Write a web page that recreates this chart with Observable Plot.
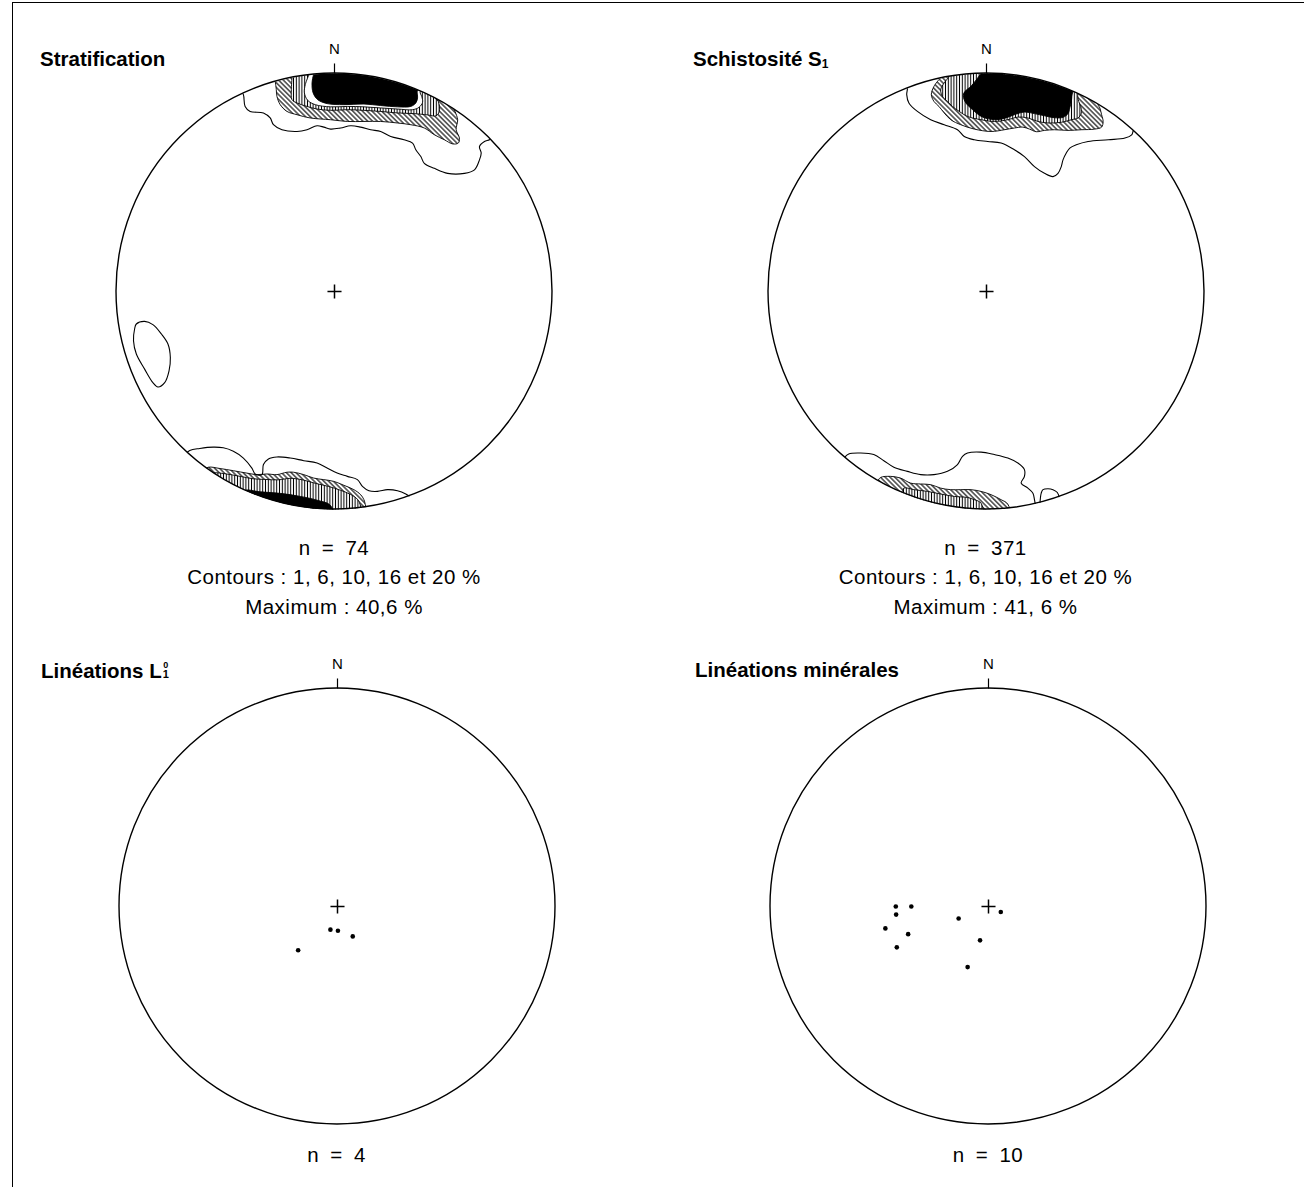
<!DOCTYPE html>
<html><head><meta charset="utf-8">
<script src="https://cdn.jsdelivr.net/npm/d3@7"></script>
<script src="https://cdn.jsdelivr.net/npm/@observablehq/plot@0.6"></script>
<style>
html,body{margin:0;padding:0;background:#fff;}
#page{position:relative;width:1304px;height:1187px;overflow:hidden;font-family:"Liberation Sans",Arial,Helvetica,sans-serif;color:#000;background:#fff;}
.frame{position:absolute;left:12px;top:2px;width:1292px;height:1185px;border-top:1.5px solid #000;border-left:1.5px solid #000;box-sizing:border-box;}
.panel{position:absolute;}
.panel svg{background:transparent;overflow:visible;}
.title{position:absolute;font-weight:bold;font-size:20.5px;white-space:nowrap;line-height:20.5px;}
.title sub{font-size:12px;vertical-align:-2px;line-height:0;}
.stk{position:relative;display:inline-block;font-size:11px;margin-left:1px;}
.stk .sup{position:absolute;left:0.5px;top:-9px;font-size:9px;}
.caption{position:absolute;width:460px;text-align:center;font-size:20.5px;letter-spacing:0.5px;line-height:29.5px;white-space:nowrap;}
.caption .n{word-spacing:5px;}
</style></head><body>
<svg width="0" height="0" style="position:absolute">
<defs>
<pattern id="hatch-diag" patternUnits="userSpaceOnUse" width="3.4" height="3.4" patternTransform="rotate(-45)">
<rect width="3.4" height="3.4" fill="#fff"/><line x1="1.7" y1="-1" x2="1.7" y2="4.4" stroke="#000" stroke-width="1.1"/>
</pattern>
<pattern id="hatch-vert" patternUnits="userSpaceOnUse" width="2.8" height="2.8">
<rect width="2.8" height="2.8" fill="#fff"/><line x1="1.4" y1="-1" x2="1.4" y2="3.8" stroke="#000" stroke-width="1"/>
</pattern>
</defs>
</svg>
<div id="page"><div class="frame"></div></div>
<script>
// ---------------- data ----------------
const contourLevels = [1, 6, 10, 16, 20];

const titles = [
  "Stratification",
  "Schistosité S<sub>1</sub>",
  "Linéations L<span class='stk'><span class='sup'>0</span>1</span>",
  "Linéations minérales"
];

const captions = [
  ["n = 74", "Contours : 1, 6, 10, 16 et 20 %", "Maximum : 40,6 %"],
  ["n = 371", "Contours : 1, 6, 10, 16 et 20 %", "Maximum : 41, 6 %"],
  ["n = 4"],
  ["n = 10"]
];

const compass = [{label: "N", trend: 0}];
const netCentre = [{trend: 0, plunge: 90}];

// contour outlines, in equal-area net coordinates (east, north; unit radius)
const stratificationContours = [
  {level: 1, pts: [[-0.43,0.92],[-0.418,0.903],[-0.410,0.849],[-0.387,0.826],[-0.326,0.819],[-0.295,0.796],[-0.280,0.765],[-0.241,0.742],[-0.172,0.734],[-0.126,0.742],[-0.080,0.760],[-0.049,0.754],[-0.018,0.745],[0.028,0.750],[0.074,0.760],[0.120,0.754],[0.166,0.742],[0.212,0.734],[0.258,0.711],[0.319,0.696],[0.358,0.681],[0.373,0.650],[0.396,0.619],[0.412,0.588],[0.458,0.565],[0.519,0.542],[0.596,0.542],[0.642,0.558],[0.665,0.604],[0.673,0.635],[0.665,0.665],[0.688,0.688],[0.711,0.696],[0.725,0.71]]},
  {level: 1, pts: [[-0.69,-0.75],[-0.664,-0.729],[-0.618,-0.720],[-0.556,-0.714],[-0.510,-0.717],[-0.464,-0.733],[-0.418,-0.764],[-0.379,-0.810],[-0.364,-0.837],[-0.333,-0.840],[-0.326,-0.794],[-0.303,-0.768],[-0.264,-0.759],[-0.203,-0.764],[-0.141,-0.776],[-0.080,-0.787],[-0.034,-0.810],[0.012,-0.833],[0.059,-0.848],[0.105,-0.863],[0.128,-0.894],[0.158,-0.914],[0.197,-0.917],[0.243,-0.909],[0.289,-0.914],[0.327,-0.929],[0.350,-0.945],[0.36,-0.96]]},
  {level: 1, closed: true, pts: [[-0.909,-0.149],[-0.871,-0.137],[-0.833,-0.152],[-0.794,-0.195],[-0.764,-0.241],[-0.753,-0.303],[-0.759,-0.364],[-0.779,-0.418],[-0.810,-0.438],[-0.833,-0.418],[-0.871,-0.356],[-0.909,-0.287],[-0.922,-0.226],[-0.917,-0.172]]},
  {level: 6, pts: [[-0.272,0.965],[-0.267,0.926],[-0.264,0.895],[-0.249,0.857],[-0.218,0.826],[-0.172,0.811],[-0.111,0.796],[-0.018,0.788],[0.059,0.780],[0.135,0.780],[0.212,0.780],[0.289,0.773],[0.350,0.765],[0.412,0.750],[0.458,0.719],[0.504,0.696],[0.542,0.677],[0.568,0.681],[0.573,0.704],[0.558,0.742],[0.565,0.788],[0.553,0.826],[0.545,0.849],[0.62,0.85],[0.3,1.06],[-0.3,1.06]]},
  {level: 10, pts: [[-0.195,0.978],[-0.198,0.926],[-0.195,0.880],[-0.172,0.865],[-0.126,0.849],[-0.080,0.837],[-0.018,0.831],[0.059,0.834],[0.135,0.831],[0.212,0.826],[0.289,0.819],[0.365,0.816],[0.427,0.810],[0.465,0.806],[0.481,0.826],[0.476,0.872],[0.458,0.893],[0.52,0.93],[0.2,1.06],[-0.22,1.06]]},
  {level: 16, pts: [[-0.118,0.993],[-0.134,0.949],[-0.138,0.911],[-0.123,0.877],[-0.088,0.857],[-0.018,0.847],[0.059,0.849],[0.135,0.847],[0.212,0.842],[0.289,0.837],[0.358,0.834],[0.388,0.845],[0.404,0.868],[0.400,0.895],[0.393,0.916],[0.44,0.95],[0.15,1.06],[-0.14,1.06]]},
  {level: 20, pts: [[-0.095,1.0],[-0.103,0.957],[-0.098,0.911],[-0.077,0.880],[-0.034,0.862],[0.043,0.857],[0.135,0.860],[0.212,0.853],[0.289,0.847],[0.350,0.849],[0.373,0.865],[0.381,0.888],[0.381,0.924],[0.43,0.96],[0.1,1.06],[-0.1,1.06]]},
  {level: 6, pts: [[-0.60,-0.82],[-0.579,-0.806],[-0.525,-0.812],[-0.464,-0.822],[-0.402,-0.833],[-0.356,-0.840],[-0.310,-0.837],[-0.264,-0.840],[-0.218,-0.829],[-0.188,-0.829],[-0.141,-0.840],[-0.095,-0.856],[-0.049,-0.863],[-0.003,-0.871],[0.043,-0.889],[0.089,-0.909],[0.120,-0.932],[0.135,-0.955],[0.143,-0.986],[0.16,-1.08],[-0.3,-1.06],[-0.62,-0.86]]},
  {level: 10, pts: [[-0.575,-0.84],[-0.558,-0.832],[-0.502,-0.836],[-0.433,-0.848],[-0.373,-0.859],[-0.318,-0.862],[-0.258,-0.864],[-0.203,-0.857],[-0.147,-0.864],[-0.088,-0.880],[-0.028,-0.894],[0.028,-0.912],[0.074,-0.931],[0.106,-0.954],[0.120,-0.986],[0.13,-1.08],[-0.3,-1.06],[-0.6,-0.88]]},
  {level: 20, pts: [[-0.42,-0.93],[-0.410,-0.912],[-0.341,-0.919],[-0.249,-0.926],[-0.157,-0.940],[-0.074,-0.959],[-0.018,-0.982],[0.0,-1.08],[-0.43,-1.0]]}
];

const schistositeContours = [
  {level: 1, pts: [[-0.37,0.945],[-0.363,0.934],[-0.366,0.903],[-0.356,0.865],[-0.317,0.826],[-0.256,0.788],[-0.194,0.765],[-0.133,0.742],[-0.102,0.711],[-0.056,0.696],[0.006,0.688],[0.067,0.681],[0.128,0.650],[0.174,0.619],[0.220,0.573],[0.266,0.542],[0.305,0.527],[0.328,0.542],[0.343,0.573],[0.351,0.604],[0.366,0.635],[0.382,0.658],[0.412,0.673],[0.466,0.688],[0.559,0.696],[0.635,0.704],[0.666,0.719],[0.674,0.739],[0.685,0.75]]},
  {level: 1, pts: [[-0.65,-0.76],[-0.632,-0.745],[-0.578,-0.741],[-0.517,-0.748],[-0.471,-0.776],[-0.425,-0.806],[-0.363,-0.825],[-0.302,-0.840],[-0.241,-0.840],[-0.179,-0.825],[-0.133,-0.794],[-0.110,-0.756],[-0.087,-0.741],[-0.025,-0.737],[0.036,-0.748],[0.098,-0.764],[0.144,-0.787],[0.174,-0.817],[0.174,-0.848],[0.159,-0.879],[0.190,-0.902],[0.213,-0.925],[0.220,-0.955],[0.224,-0.978],[0.226,-1.0]]},
  {level: 1, pts: [[0.245,-0.975],[0.251,-0.925],[0.259,-0.909],[0.282,-0.905],[0.305,-0.909],[0.325,-0.922],[0.335,-0.95]]},
  {level: 6, pts: [[-0.218,0.972],[-0.241,0.941],[-0.253,0.903],[-0.241,0.872],[-0.218,0.849],[-0.194,0.819],[-0.164,0.788],[-0.118,0.765],[-0.056,0.745],[0.021,0.734],[0.082,0.742],[0.128,0.750],[0.167,0.754],[0.197,0.745],[0.228,0.733],[0.266,0.739],[0.312,0.742],[0.374,0.739],[0.435,0.742],[0.497,0.745],[0.528,0.754],[0.535,0.780],[0.528,0.811],[0.520,0.842],[0.512,0.859],[0.56,0.9],[0.2,1.08],[-0.22,1.05]]},
  {level: 10, pts: [[-0.171,0.985],[-0.194,0.957],[-0.210,0.926],[-0.202,0.895],[-0.179,0.872],[-0.156,0.849],[-0.125,0.826],[-0.087,0.803],[-0.025,0.788],[0.036,0.780],[0.098,0.788],[0.144,0.800],[0.190,0.796],[0.236,0.780],[0.282,0.773],[0.343,0.776],[0.389,0.788],[0.420,0.796],[0.435,0.819],[0.432,0.849],[0.423,0.872],[0.420,0.908],[0.46,0.95],[0.15,1.08],[-0.17,1.05]]},
  {level: 20, pts: [[-0.025,1.0],[-0.068,0.945],[-0.105,0.908],[-0.099,0.872],[-0.064,0.834],[-0.018,0.800],[0.036,0.788],[0.082,0.794],[0.128,0.811],[0.174,0.823],[0.220,0.816],[0.266,0.806],[0.312,0.797],[0.351,0.799],[0.374,0.816],[0.382,0.842],[0.389,0.872],[0.397,0.917],[0.44,0.96],[0.1,1.08],[-0.03,1.06]]},
  {level: 6, pts: [[-0.50,-0.87],[-0.486,-0.853],[-0.440,-0.848],[-0.394,-0.856],[-0.348,-0.879],[-0.302,-0.883],[-0.256,-0.886],[-0.210,-0.902],[-0.164,-0.909],[-0.118,-0.909],[-0.071,-0.909],[-0.025,-0.917],[0.021,-0.932],[0.067,-0.955],[0.098,-0.976],[0.11,-1.08],[-0.3,-1.06],[-0.52,-0.92]]},
  {level: 10, pts: [[-0.39,-0.93],[-0.379,-0.902],[-0.333,-0.909],[-0.271,-0.917],[-0.210,-0.929],[-0.148,-0.940],[-0.087,-0.945],[-0.056,-0.955],[-0.025,-0.971],[-0.02,-1.08],[-0.4,-1.0]]}
];

// lineations: trend (deg from N, clockwise) and plunge (deg), lower hemisphere
const lineationsL1 = [
  {trend: 197, plunge: 81},
  {trend: 179, plunge: 81},
  {trend: 153, plunge: 77.5},
  {trend: 222, plunge: 68}
];
const lineationsMinerales = [
  {trend: 270, plunge: 55},
  {trend: 270, plunge: 61},
  {trend: 265, plunge: 55},
  {trend: 258, plunge: 50},
  {trend: 251, plunge: 58},
  {trend: 246, plunge: 52},
  {trend: 248, plunge: 78},
  {trend: 114, plunge: 85},
  {trend: 194, plunge: 77},
  {trend: 199, plunge: 66}
];

// ---------------- drawing ----------------
const rad = Math.PI / 180;
const rho = d => Math.SQRT2 * Math.sin((90 - d.plunge) * rad / 2);
const schmidtX = d => rho(d) * Math.sin(d.trend * rad);
const schmidtY = d => rho(d) * Math.cos(d.trend * rad);
const levelFill = {6: "url(#hatch-diag)", 10: "url(#hatch-vert)", 16: "white", 20: "black"};

function rowsOf(contours) {
  return contours.flatMap((c, i) => c.pts.map(([x, y]) => ({id: i, level: c.level, closed: !!c.closed, x, y})));
}

function stereonet(key, contours, points) {
  const rows = rowsOf(contours);
  const clip = (index, scales, values, dimensions, context, next) => {
    const g = next(index, scales, values, dimensions, context);
    g.setAttribute("clip-path", `url(#clip-${key})`);
    return g;
  };
  const marks = [];
  for (const L of contourLevels.slice(1)) {
    const r = rows.filter(d => d.level === L);
    if (r.length) marks.push(Plot.line(r, {x: "x", y: "y", z: "id", fill: levelFill[L], stroke: "black", strokeWidth: 0.9, curve: "catmull-rom", render: clip}));
  }
  const open1 = rows.filter(d => d.level === contourLevels[0] && !d.closed);
  const closed1 = rows.filter(d => d.level === contourLevels[0] && d.closed);
  if (open1.length) marks.push(Plot.line(open1, {x: "x", y: "y", z: "id", stroke: "black", strokeWidth: 1.1, curve: "catmull-rom", render: clip}));
  if (closed1.length) marks.push(Plot.line(closed1, {x: "x", y: "y", z: "id", stroke: "black", strokeWidth: 1.1, curve: "catmull-rom-closed", render: clip}));
  // primitive circle of the net (and its clip path), from the plot's own scales
  marks.push((index, scales) => {
    const cx = scales.x(0), cy = scales.y(0), r = Math.abs(scales.x(1) - cx);
    const g = d3.create("svg:g");
    g.append("defs").append("clipPath").attr("id", "clip-" + key)
      .append("circle").attr("cx", cx).attr("cy", cy).attr("r", r);
    g.append("circle").attr("cx", cx).attr("cy", cy).attr("r", r)
      .attr("fill", "none").attr("stroke", "black").attr("stroke-width", 1.4);
    return g.node();
  });
  marks.push(Plot.link(compass, {
    x1: d => Math.sin(d.trend * rad), y1: d => Math.cos(d.trend * rad),
    x2: d => 1.046 * Math.sin(d.trend * rad), y2: d => 1.046 * Math.cos(d.trend * rad),
    stroke: "black", strokeWidth: 1.2
  }));
  marks.push(Plot.text(compass, {
    x: d => Math.sin(d.trend * rad), y: d => Math.cos(d.trend * rad),
    text: "label", dy: -24, fontSize: 15, fill: "black"
  }));
  marks.push(Plot.dot(netCentre, {x: schmidtX, y: schmidtY, symbol: "plus", r: 4.6, stroke: "black", strokeWidth: 1.5, fill: "none"}));
  if (points.length) marks.push(Plot.dot(points, {x: schmidtX, y: schmidtY, r: 2.3, fill: "black", stroke: "none"}));

  return Plot.plot({
    width: 460, height: 488,
    marginTop: 40, marginBottom: 12, marginLeft: 12, marginRight: 12,
    x: {domain: [-1, 1], axis: null},
    y: {domain: [-1, 1], axis: null},
    style: {background: "transparent", fontFamily: "Liberation Sans, Arial, sans-serif", overflow: "visible"},
    marks
  });
}

const page = document.getElementById("page");
const layout = [
  {key: "strat", left: 104, top: 33, contours: stratificationContours, points: []},
  {key: "schist", left: 755.5, top: 33, contours: schistositeContours, points: []},
  {key: "linL1", left: 106.5, top: 648, contours: [], points: lineationsL1},
  {key: "linMin", left: 758, top: 648, contours: [], points: lineationsMinerales}
];
const titlePos = [[40, 49.2], [693, 49.2], [41, 660.6], [695, 659.6]];
const captionTop = [532.5, 532.5, 1140, 1140];

layout.forEach((p, i) => {
  const div = document.createElement("div");
  div.className = "panel";
  div.style.left = p.left + "px";
  div.style.top = p.top + "px";
  div.appendChild(stereonet(p.key, p.contours, p.points));
  page.appendChild(div);

  const cap = document.createElement("div");
  cap.className = "caption";
  cap.style.left = p.left + "px";
  cap.style.top = captionTop[i] + "px";
  captions[i].forEach((line, j) => {
    const d = document.createElement("div");
    if (j === 0) d.className = "n";
    d.textContent = line;
    cap.appendChild(d);
  });
  page.appendChild(cap);
});
titles.forEach((t, i) => {
  const d = document.createElement("div");
  d.className = "title";
  d.style.left = titlePos[i][0] + "px";
  d.style.top = titlePos[i][1] + "px";
  d.innerHTML = t;
  page.appendChild(d);
});
</script>
</body></html>
